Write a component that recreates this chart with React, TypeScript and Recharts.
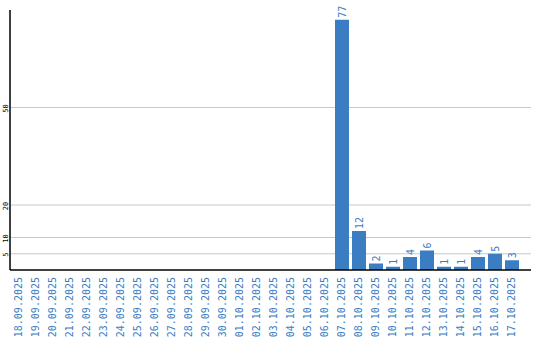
import React from "react";
import { BarChart, Bar, XAxis, YAxis, CartesianGrid, LabelList } from "recharts";

const dates = [
  "18.09.2025","19.09.2025","20.09.2025","21.09.2025","22.09.2025","23.09.2025",
  "24.09.2025","25.09.2025","26.09.2025","27.09.2025","28.09.2025","29.09.2025",
  "30.09.2025","01.10.2025","02.10.2025","03.10.2025","04.10.2025","05.10.2025",
  "06.10.2025","07.10.2025","08.10.2025","09.10.2025","10.10.2025","11.10.2025",
  "12.10.2025","13.10.2025","14.10.2025","15.10.2025","16.10.2025","17.10.2025",
];
const counts = [0,0,0,0,0,0,0,0,0,0,0,0,0,0,0,0,0,0,0,77,12,2,1,4,6,1,1,4,5,3];
const yTicks = [5, 10, 20, 50];

const data = dates.map((d, i) => ({ date: d, value: counts[i] }));

const BLUE = "#3b7dc3";
const FONT = "'DejaVu Sans Mono', monospace";

const gridGen = (args: any) => {
  const s = args && args.yAxis ? args.yAxis.scale : null;
  let f: any = null;
  if (typeof s === "function") f = s;
  else if (s && typeof s.map === "function") f = (v: number) => s.map(v);
  else if (s && typeof s.apply === "function") f = (v: number) => s.apply(v);
  if (!f) return [];
  return yTicks.map((t) => f(t));
};

const XTick = (props: any) => {
  const { x, payload } = props;
  const y = 277;
  return (
    <text
      x={x}
      y={y}
      transform={`rotate(-90, ${x}, ${y})`}
      textAnchor="end"
      dominantBaseline="central"
      fill={BLUE}
      fontSize={10}
      fontFamily={FONT}
    >
      {payload.value}
    </text>
  );
};

const YTick = (props: any) => {
  const { y, payload } = props;
  const x = 5.5;
  return (
    <text
      x={x}
      y={y + 1}
      transform={`rotate(-90, ${x}, ${y + 1})`}
      textAnchor="middle"
      dominantBaseline="central"
      fill="#000"
      fontSize={7}
      fontFamily={FONT}
    >
      {payload.value}
    </text>
  );
};

const BarLabel = (props: any) => {
  const { x, y, width, value } = props;
  if (!value) return null;
  const cx = x + width / 2;
  const ty = y - 2;
  return (
    <text
      x={cx}
      y={ty}
      transform={`rotate(-90, ${cx}, ${ty})`}
      textAnchor="start"
      dominantBaseline="central"
      fill={BLUE}
      fontSize={10}
      fontFamily={FONT}
    >
      {value}
    </text>
  );
};

export default function App() {
  return (
    <div style={{ position: "absolute", left: 0, top: 0, width: 540, height: 340, background: "#fff" }}>
      <BarChart
        width={540}
        height={340}
        data={data}
        margin={{ top: 10, right: 9, left: 0, bottom: 0 }}
        barSize={14}
      >
        <CartesianGrid vertical={false} stroke="#c8c8c8" horizontalCoordinatesGenerator={gridGen} />
        <XAxis
          dataKey="date"
          interval={0}
          height={70}
          padding={{ left: 0, right: 11 }}
          tick={<XTick />}
          tickLine={false}
          axisLine={{ stroke: "#000", strokeWidth: 1.5 }}
        />
        <YAxis
          width={10}
          domain={[0, 80]}
          ticks={yTicks}
          interval={0}
          tick={<YTick />}
          tickLine={false}
          axisLine={{ stroke: "#000", strokeWidth: 1.5 }}
        />
        <Bar dataKey="value" fill={BLUE} isAnimationActive={false}>
          <LabelList dataKey="value" content={<BarLabel />} />
        </Bar>
      </BarChart>
    </div>
  );
}
